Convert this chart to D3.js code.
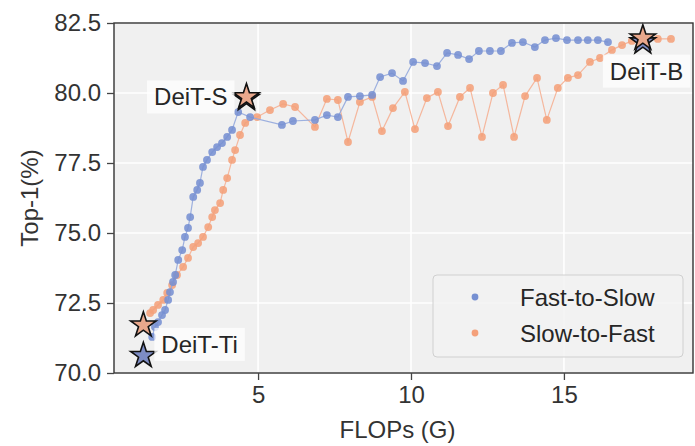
<!DOCTYPE html>
<html>
<head>
<meta charset="utf-8">
<script src="https://cdn.jsdelivr.net/npm/d3@7"></script>
<style>
  html, body { margin: 0; padding: 0; background: #fff; }
  svg { display: block; font-family: "Liberation Sans", Arial, sans-serif; }
</style>
</head>
<body>
<svg id="chart" width="695" height="446"></svg>
<script>
// Fast-to-Slow schedule: FLOPs (G) vs Top-1 (%)
const fastToSlowFlops = [1.54, 1.63, 1.73, 1.86, 1.96, 2.06, 2.12, 2.22, 2.29, 2.39, 2.52, 2.61, 2.71, 2.78, 2.88, 3.01, 3.10, 3.20, 3.33, 3.50, 3.66, 3.82, 3.99, 4.15, 4.35, 4.74, 5.78, 6.14, 6.86, 7.25, 7.61, 7.94, 8.33, 8.73, 8.99, 9.38, 9.74, 10.07, 10.46, 10.85, 11.18, 11.54, 11.90, 12.22, 12.58, 12.94, 13.30, 13.66, 14.05, 14.38, 14.74, 15.10, 15.46, 15.78, 16.11, 16.44];
const fastToSlowTop1  = [71.29, 71.64, 71.82, 72.07, 72.25, 72.61, 72.89, 73.25, 73.50, 74.04, 74.39, 74.86, 75.18, 75.57, 76.29, 76.54, 76.79, 77.36, 77.61, 77.89, 78.07, 78.21, 78.43, 78.68, 79.32, 79.14, 78.86, 79.00, 79.04, 79.21, 79.14, 79.86, 79.89, 79.93, 80.57, 80.71, 80.43, 81.11, 81.07, 80.96, 81.43, 81.36, 81.21, 81.50, 81.50, 81.50, 81.79, 81.82, 81.64, 81.89, 81.96, 81.89, 81.89, 81.89, 81.89, 81.82];

// Slow-to-Fast schedule
const slowToFastFlops = [1.47, 1.57, 1.73, 1.90, 2.03, 2.19, 2.35, 2.55, 2.71, 2.88, 3.04, 3.20, 3.37, 3.50, 3.59, 3.76, 3.86, 3.99, 4.15, 4.25, 4.41, 4.58, 4.97, 5.39, 5.82, 6.21, 6.86, 7.25, 7.61, 7.94, 8.33, 8.73, 9.05, 9.41, 9.80, 10.13, 10.52, 10.88, 11.21, 11.60, 11.93, 12.32, 12.68, 13.01, 13.37, 13.73, 14.12, 14.44, 14.80, 15.13, 15.46, 15.85, 16.18, 16.57, 16.90, 17.22, 17.65, 18.07, 18.50];
const slowToFastTop1  = [72.14, 72.25, 72.43, 72.61, 72.86, 73.14, 73.50, 73.79, 74.11, 74.50, 74.64, 74.86, 75.21, 75.57, 75.82, 76.07, 76.54, 76.96, 77.61, 77.96, 78.50, 78.93, 79.14, 79.39, 79.61, 79.50, 78.79, 79.79, 79.75, 78.25, 79.68, 79.86, 78.64, 79.46, 80.04, 78.71, 79.82, 80.04, 78.82, 79.86, 80.18, 78.43, 80.00, 80.29, 78.43, 79.89, 80.54, 79.04, 80.18, 80.54, 80.64, 81.11, 81.25, 81.54, 81.71, 81.86, 81.89, 81.93, 81.93];

// Reference DeiT models (star markers)
const modelNames      = ["DeiT-Ti", "DeiT-S", "DeiT-B"];
const modelFlops      = [1.25, 4.62, 17.58];
const modelTop1Fast   = [70.62, 79.80, 81.82];
const modelTop1Slow   = [71.71, 79.86, 81.96];

const seriesNames = ["Fast-to-Slow", "Slow-to-Fast"];
const xTicks = [5, 10, 15];
const yTicks = [70.0, 72.5, 75.0, 77.5, 80.0, 82.5];

const colors = {
  fast:      "#7690d2",
  fastLine:  "#93a8dd",
  slow:      "#f4a07a",
  slowLine:  "#f5b094"
};

const svg = d3.select("#chart");
const plotL = 114, plotR = 693, plotT = 23, plotB = 373;
const fontSize = 24;
const textColor = "#333333";

const x = d3.scaleLinear().domain([0.29, 19.22]).range([plotL, plotR]);
const y = d3.scaleLinear().domain([70, 82.5]).range([plotB, plotT]);

// Plot background
svg.append("rect")
  .attr("x", plotL).attr("y", plotT)
  .attr("width", plotR - plotL).attr("height", plotB - plotT)
  .attr("fill", "#f0f0f0");

// Grid
const grid = svg.append("g").attr("stroke", "#ffffff").attr("stroke-width", 1.6);
grid.selectAll("line.gx").data(xTicks).join("line").attr("class", "gx")
  .attr("x1", d => x(d)).attr("x2", d => x(d))
  .attr("y1", plotT).attr("y2", plotB);
grid.selectAll("line.gy").data(yTicks).join("line").attr("class", "gy")
  .attr("x1", plotL).attr("x2", plotR)
  .attr("y1", d => y(d)).attr("y2", d => y(d));

const line = d3.line().x(d => x(d[0])).y(d => y(d[1]));

function drawSeries(xs, ys, lineColor, dotColor) {
  const pts = xs.map((v, i) => [v, ys[i]]);
  const g = svg.append("g");
  g.append("path").datum(pts)
    .attr("d", line)
    .attr("fill", "none")
    .attr("stroke", lineColor)
    .attr("stroke-width", 1.2)
    .attr("stroke-opacity", 0.9);
  g.selectAll("circle").data(pts).join("circle")
    .attr("cx", d => x(d[0])).attr("cy", d => y(d[1]))
    .attr("r", 3.9)
    .attr("fill", dotColor)
    .attr("fill-opacity", 0.88);
}
drawSeries(slowToFastFlops, slowToFastTop1, colors.slowLine, colors.slow);
drawSeries(fastToSlowFlops, fastToSlowTop1, colors.fastLine, colors.fast);

// Model stars
const star = d3.symbol().type(d3.symbolStar).size(200);
const starG = svg.append("g");
modelNames.forEach((name, i) => {
  starG.append("path").attr("d", star)
    .attr("transform", `translate(${x(modelFlops[i])},${y(modelTop1Fast[i])})`)
    .attr("fill", "#7d8cc4").attr("stroke", "#111").attr("stroke-width", 1.6);
  starG.append("path").attr("d", star)
    .attr("transform", `translate(${x(modelFlops[i])},${y(modelTop1Slow[i])})`)
    .attr("fill", "#e9a88c").attr("stroke", "#111").attr("stroke-width", 1.6);
});

// Model labels with soft white boxes
const labelPos = [
  { dx: 18, dy: 4, anchor: "start", yv: (modelTop1Fast[0] + modelTop1Slow[0]) / 2 },
  { dx: -19, dy: 0, anchor: "end", yv: modelTop1Slow[1] },
  { dx: -33, dy: 33, anchor: "start", yv: modelTop1Slow[2] }
];
modelNames.forEach((name, i) => {
  const p = labelPos[i];
  const g = svg.append("g");
  const t = g.append("text")
    .attr("x", x(modelFlops[i]) + p.dx)
    .attr("y", y(p.yv) + p.dy)
    .attr("dominant-baseline", "central")
    .attr("text-anchor", p.anchor)
    .attr("font-size", fontSize)
    .attr("fill", "#262626")
    .text(name);
  const b = t.node().getBBox();
  g.insert("rect", "text")
    .attr("x", b.x - 7).attr("y", b.y - 3)
    .attr("width", b.width + 14).attr("height", b.height + 6)
    .attr("fill", "#ffffff").attr("fill-opacity", 0.75);
});

// Spines
svg.append("rect")
  .attr("x", plotL).attr("y", plotT)
  .attr("width", plotR - plotL).attr("height", plotB - plotT)
  .attr("fill", "none").attr("stroke", "#333").attr("stroke-width", 1.4);

// Axes
const xAxis = d3.axisBottom(x).tickValues(xTicks).tickFormat(d3.format("d")).tickSize(7).tickPadding(6);
const yAxis = d3.axisLeft(y).tickValues(yTicks).tickFormat(d3.format(".1f")).tickSize(7).tickPadding(6);

const gx = svg.append("g").attr("transform", `translate(0,${plotB})`).call(xAxis);
const gy = svg.append("g").attr("transform", `translate(${plotL},0)`).call(yAxis);
[gx, gy].forEach(g => {
  g.select(".domain").remove();
  g.selectAll(".tick line").attr("stroke", "#444").attr("stroke-width", 1.3);
  g.selectAll(".tick text").attr("font-size", fontSize).attr("fill", textColor)
    .attr("font-family", "Liberation Sans, Arial, sans-serif");
});

// Axis titles
svg.append("text")
  .attr("x", (plotL + plotR) / 2 - 6).attr("y", 438)
  .attr("text-anchor", "middle")
  .attr("font-size", fontSize).attr("fill", textColor)
  .text("FLOPs (G)");
svg.append("text")
  .attr("transform", `translate(29,${(plotT + plotB) / 2}) rotate(-90)`)
  .attr("text-anchor", "middle")
  .attr("dominant-baseline", "central")
  .attr("font-size", fontSize).attr("fill", textColor)
  .text("Top-1(%)");

// Legend
const legend = svg.append("g");
legend.append("rect")
  .attr("x", 433).attr("y", 275).attr("width", 250).attr("height", 82)
  .attr("rx", 4)
  .attr("fill", "#f2f2f2").attr("fill-opacity", 0.85)
  .attr("stroke", "#d0d0d0").attr("stroke-width", 1);
const legendColors = [colors.fast, colors.slow];
seriesNames.forEach((name, i) => {
  const cy = 297 + i * 36;
  legend.append("circle").attr("cx", 475).attr("cy", cy).attr("r", 3.4)
    .attr("fill", legendColors[i]);
  legend.append("text")
    .attr("x", 520).attr("y", cy)
    .attr("dominant-baseline", "central")
    .attr("font-size", fontSize).attr("fill", "#262626")
    .text(name);
});
</script>
</body>
</html>
